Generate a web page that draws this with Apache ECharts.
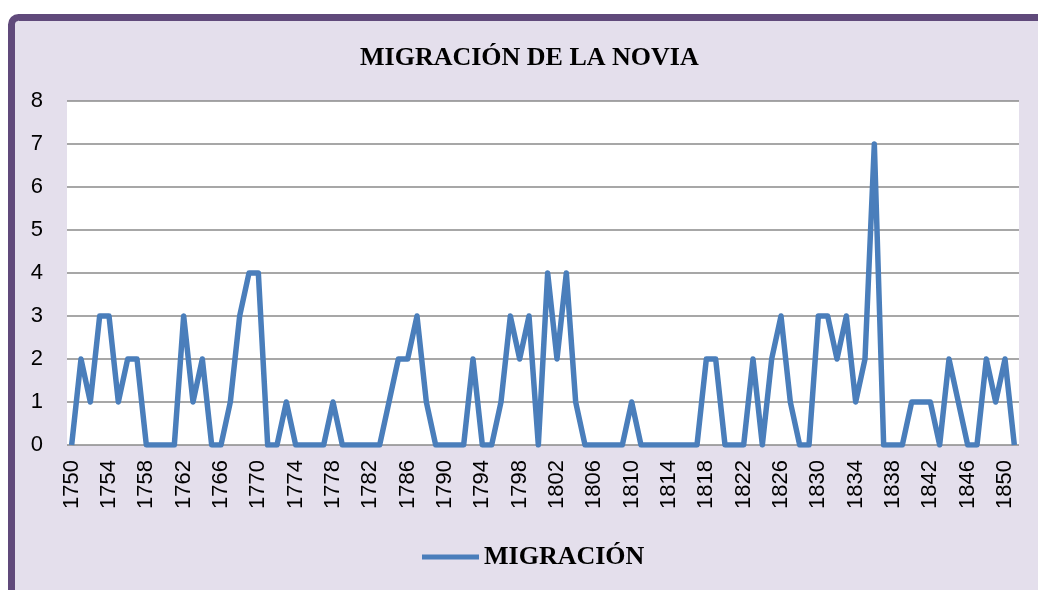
<!DOCTYPE html>
<html>
<head>
<meta charset="utf-8">
<script src="https://cdn.jsdelivr.net/npm/echarts@6/dist/echarts.min.js"></script>
<style>
  html, body { margin: 0; padding: 0; background: #fff; }
  #main { width: 1038px; height: 590px; }
</style>
</head>
<body>
<div id="main"></div>
<script>
// años 1750-1851 (la última etiqueta visible es 1850)
var years = [
  '1750','1751','1752','1753','1754','1755','1756','1757','1758','1759',
  '1760','1761','1762','1763','1764','1765','1766','1767','1768','1769',
  '1770','1771','1772','1773','1774','1775','1776','1777','1778','1779',
  '1780','1781','1782','1783','1784','1785','1786','1787','1788','1789',
  '1790','1791','1792','1793','1794','1795','1796','1797','1798','1799',
  '1800','1801','1802','1803','1804','1805','1806','1807','1808','1809',
  '1810','1811','1812','1813','1814','1815','1816','1817','1818','1819',
  '1820','1821','1822','1823','1824','1825','1826','1827','1828','1829',
  '1830','1831','1832','1833','1834','1835','1836','1837','1838','1839',
  '1840','1841','1842','1843','1844','1845','1846','1847','1848','1849',
  '1850','1851'
]
var migracion = [
  0,2,1,3,3,1,2,2,0,0,
  0,0,3,1,2,0,0,1,3,4,
  4,0,0,1,0,0,0,0,1,0,
  0,0,0,0,1,2,2,3,1,0,
  0,0,0,2,0,0,1,3,2,3,
  0,4,2,4,1,0,0,0,0,0,
  1,0,0,0,0,0,0,0,2,2,
  0,0,0,2,0,2,3,1,0,0,
  3,3,2,3,1,2,7,0,0,0,
  1,1,1,0,2,1,0,0,2,1,
  2,0
]
var yTicks = { min: 0, max: 8, step: 1 }

var chart = echarts.init(document.getElementById('main'))
chart.setOption({
    animation: false,
    graphic: [
        {
            type: 'rect',
            z: -10,
            shape: { x: 11.5, y: 17.5, width: 1100, height: 700, r: 7 },
            style: { fill: '#E4DFEC', stroke: '#604A7B', lineWidth: 7 }
        }
    ],
    title: {
        text: 'MIGRACIÓN DE LA NOVIA',
        left: 355,
        top: 40,
        textStyle: {
            fontFamily: 'Liberation Serif',
            fontWeight: 'bold',
            fontSize: 26,
            color: '#000'
        }
    },
    legend: {
        left: 417,
        top: 539,
        icon: 'rect',
        itemWidth: 57,
        itemHeight: 5,
        textStyle: {
            fontFamily: 'Liberation Serif',
            fontWeight: 'bold',
            fontSize: 26,
            color: '#000'
        },
        data: ['MIGRACIÓN']
    },
    grid: {
        show: true,
        left: 67,
        right: 19,
        top: 101,
        bottom: 145,
        backgroundColor: '#fff',
        borderWidth: 0
    },
    xAxis: {
        type: 'category',
        data: years,
        boundaryGap: true,
        axisLine: { show: false },
        axisTick: { show: false },
        axisLabel: {
            interval: 3,
            rotate: 90,
            margin: 15,
            fontFamily: 'Liberation Sans',
            fontSize: 22,
            color: '#000'
        },
        splitLine: { show: false }
    },
    yAxis: {
        type: 'value',
        min: yTicks.min,
        max: yTicks.max,
        interval: yTicks.step,
        axisLine: { show: false },
        axisTick: { show: false },
        axisLabel: {
            margin: 24,
            fontFamily: 'Liberation Sans',
            fontSize: 22,
            color: '#000'
        },
        splitLine: {
            show: true,
            lineStyle: { color: '#8a8a8a', width: 1.5 }
        }
    },
    series: [
        {
            name: 'MIGRACIÓN',
            type: 'line',
            data: migracion,
            symbol: 'none',
            color: '#4A7EBB',
            lineStyle: { width: 5.5, color: '#4A7EBB', join: 'round' }
        }
    ]
})
</script>
</body>
</html>
